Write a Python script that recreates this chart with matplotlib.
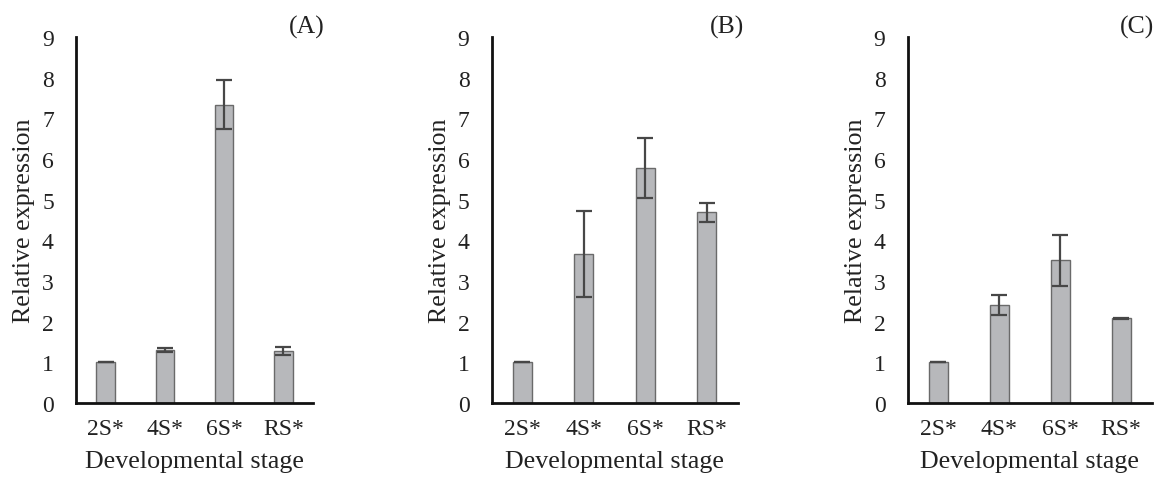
import matplotlib
matplotlib.use("Agg")
import matplotlib.pyplot as plt

plt.rcParams['font.family'] = ['Liberation Serif', 'DejaVu Serif']

stages = ['2S*', '4S*', '6S*', 'RS*']
panel_labels = ['(A)', '(B)', '(C)']

expr_a = [1.0, 1.30, 7.34, 1.27]
err_a = [0.0, 0.05, 0.61, 0.10]

expr_b = [1.0, 3.66, 5.77, 4.69]
err_b = [0.0, 1.05, 0.74, 0.24]

expr_c = [1.0, 2.41, 3.51, 2.08]
err_c = [0.0, 0.24, 0.63, 0.02]

values = [expr_a, expr_b, expr_c]
errors = [err_a, err_b, err_c]

# axes boxes in figure fraction: left, right
boxes = [(0.0655, 0.2696), (0.4235, 0.6354), (0.7818, 0.992)]
bottom, top = 0.160, 0.921

fig = plt.figure(figsize=(11.61, 4.81), dpi=100)

for i in range(3):
    l, r = boxes[i]
    ax = fig.add_axes([l, bottom, r - l, top - bottom])
    x = range(len(stages))
    ax.bar(x, values[i], width=0.31, color='#b7b8bb', edgecolor='#6a6a6a',
           linewidth=1.0, zorder=2)
    ax.errorbar(x, values[i], yerr=errors[i], fmt='none', ecolor='#474747',
                elinewidth=1.6, capsize=5.5, capthick=1.6, zorder=3)
    ax.set_xlim(-0.5, 3.5)
    ax.set_ylim(0, 9)
    ax.set_yticks(range(10))
    ax.set_xticks(list(x))
    ax.set_xticklabels(stages)
    ax.tick_params(axis='both', length=0, labelsize=17, colors='#222222')
    ax.tick_params(axis='y', pad=16)
    ax.tick_params(axis='x', pad=11)
    for s in ['top', 'right']:
        ax.spines[s].set_visible(False)
    for s in ['left', 'bottom']:
        ax.spines[s].set_linewidth(2.0)
        ax.spines[s].set_color('#111111')
    ax.set_ylabel('Relative expression', fontsize=18.7, labelpad=5, color='#222222')
    ax.set_xlabel('Developmental stage', fontsize=18.7, labelpad=8, color='#222222')

fig.text(0.264, 0.942, panel_labels[0], fontsize=18.5, ha='center', va='center', color='#222222')
fig.text(0.626, 0.942, panel_labels[1], fontsize=18.5, ha='center', va='center', color='#222222')
fig.text(0.979, 0.942, panel_labels[2], fontsize=18.5, ha='center', va='center', color='#222222')

fig.savefig('out.png', dpi=100)
